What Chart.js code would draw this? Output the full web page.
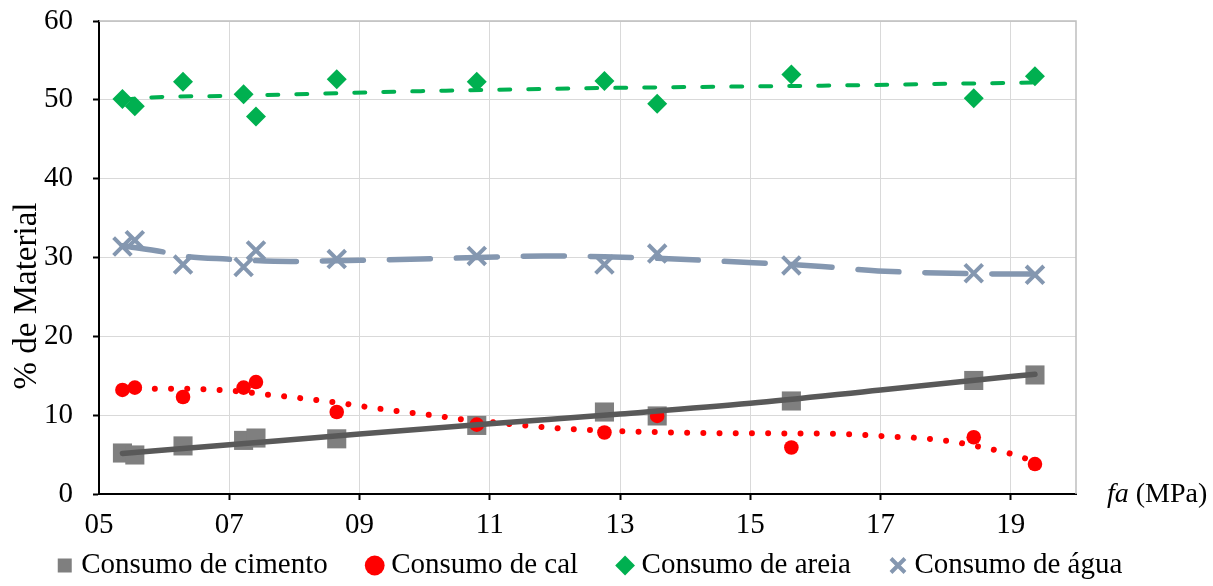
<!DOCTYPE html>
<html>
<head>
<meta charset="utf-8">
<script src="https://cdn.jsdelivr.net/npm/chart.js@4.4.1/dist/chart.umd.min.js"></script>
<style>
  html, body { margin: 0; padding: 0; background: #fff; }
</style>
</head>
<body>
<canvas id="chart" width="1213" height="586"></canvas>
<script>
// fa (MPa) of each mix, shared by the four series
const fa = [5.36, 5.55, 6.29, 7.22, 7.41, 8.65, 10.80, 12.76, 13.57, 15.63, 18.43, 19.37];

// % of material
const cimento = [5.2, 4.95, 6.1, 6.8, 7.1, 7.0, 8.7, 10.4, 9.9, 11.8, 14.4, 15.1];
const cal     = [13.2, 13.5, 12.3, 13.5, 14.2, 10.4, 8.8, 7.8, 9.9, 5.9, 7.2, 3.8];
const areia   = [50.1, 49.2, 52.3, 50.7, 47.9, 52.6, 52.3, 52.4, 49.5, 53.2, 50.2, 53.0];
const agua    = [31.4, 32.2, 29.1, 28.8, 30.9, 29.8, 30.2, 29.1, 30.5, 29.0, 28.0, 27.8];

// trend lines
const cimentoTrendX = [5.36, 7, 9, 11, 13, 15, 17, 19, 19.37];
const cimentoTrendY = [5.15, 6.25, 7.6, 8.9, 10.15, 11.5, 13.2, 14.9, 15.2];

const calTrendX = [5.36, 6.0, 6.6, 7.1, 7.6, 8.1, 8.6, 9.1, 9.6, 10.1, 10.6, 11.1, 11.6, 12.1, 12.6, 13.1, 13.6, 14.1, 15.1, 16.1, 16.6, 17.1, 17.6, 18.1, 18.6, 19.0, 19.37];
const calTrendY = [13.2, 13.35, 13.3, 13.05, 12.6, 12.15, 11.65, 11.05, 10.5, 10.0, 9.45, 9.05, 8.65, 8.3, 8.1, 7.95, 7.85, 7.75, 7.7, 7.65, 7.55, 7.3, 7.1, 6.65, 5.85, 5.1, 4.1];

const areiaTrendX = [5.36, 5.78, 7, 9.94, 12.76, 16.1, 19.37];
const areiaTrendY = [50.0, 50.3, 50.5, 51.1, 51.5, 51.8, 52.2];

const aguaTrendX = [5.36, 5.99, 6.28, 6.96, 7.94, 8.65, 9.94, 10.8, 11.83, 12.76, 13.57, 14.9, 15.63, 16.1, 16.96, 18.43, 19.37];
const aguaTrendY = [31.5, 30.7, 30.2, 29.8, 29.5, 29.6, 29.8, 30.0, 30.2, 30.1, 29.9, 29.4, 29.1, 28.85, 28.3, 27.95, 27.9];

const xTicks = [5, 7, 9, 11, 13, 15, 17, 19];
const yTicks = [0, 10, 20, 30, 40, 50, 60];

const FONT = '"Liberation Serif", "Times New Roman", serif';
const toPts = (xs, ys) => xs.map((x, i) => ({ x: x, y: ys[i] }));

// axis titles and the light frame on top / right
const extraText = {
    id: 'extraText',
    beforeDatasetsDraw(chart) {
        const { ctx, chartArea: a } = chart;
        ctx.save();
        ctx.strokeStyle = '#bfbfbf';
        ctx.lineWidth = 1.5;
        ctx.beginPath();
        ctx.moveTo(a.left, a.top);
        ctx.lineTo(a.right, a.top);
        ctx.lineTo(a.right, a.bottom);
        ctx.stroke();
        ctx.restore();
    },
    afterDraw(chart) {
        const { ctx, chartArea: a } = chart;
        ctx.save();
        ctx.fillStyle = '#000';
        ctx.textBaseline = 'alphabetic';
        // x title
        ctx.textAlign = 'left';
        ctx.font = 'italic 28px ' + FONT;
        let x = a.right + 31;
        const y = a.bottom + 8;
        ctx.fillText('fa', x, y);
        x += ctx.measureText('fa').width;
        ctx.font = '28px ' + FONT;
        ctx.fillText(' (MPa)', x, y);
        // y title
        ctx.font = '33px ' + FONT;
        ctx.translate(27, 296);
        ctx.rotate(-Math.PI / 2);
        ctx.textAlign = 'center';
        ctx.textBaseline = 'middle';
        ctx.fillText('% de Material', 0, 0);
        ctx.restore();
    }
};

const ctx = document.getElementById('chart').getContext('2d');
const chart = new Chart(ctx, {
    type: 'scatter',
    data: {
        datasets: [
            { label: 'Consumo de cimento', data: toPts(fa, cimento), order: 4,
              pointStyle: 'rect', pointRadius: 13.5, backgroundColor: '#7f7f7f', borderColor: '#7f7f7f', borderWidth: 0 },
            { label: 'Consumo de cal', data: toPts(fa, cal), order: 3,
              pointStyle: 'circle', pointRadius: 7.3, backgroundColor: '#ff0000', borderColor: '#ff0000', borderWidth: 0 },
            { label: 'Consumo de areia', data: toPts(fa, areia), order: 2,
              pointStyle: 'rectRot', pointRadius: 10, backgroundColor: '#00b050', borderColor: '#00b050', borderWidth: 0 },
            { label: 'Consumo de água', data: toPts(fa, agua), order: 1,
              pointStyle: 'crossRot', pointRadius: 12.5, backgroundColor: '#8497b0', borderColor: '#8497b0',
              borderWidth: 4, pointBorderWidth: 4 },

            { label: 'trend cimento', data: toPts(cimentoTrendX, cimentoTrendY), order: 0,
              showLine: true, pointRadius: 0, borderColor: '#595959', borderWidth: 5.5,
              borderCapStyle: 'round', cubicInterpolationMode: 'monotone' },
            { label: 'trend cal', data: toPts(calTrendX, calTrendY), order: 0,
              showLine: true, pointRadius: 0, borderColor: '#ff0000', borderWidth: 6,
              borderDash: [0.001, 16.2], borderCapStyle: 'round', cubicInterpolationMode: 'monotone' },
            { label: 'trend areia', data: toPts(areiaTrendX, areiaTrendY), order: 0,
              showLine: true, pointRadius: 0, borderColor: '#00b050', borderWidth: 4,
              borderDash: [11, 18], borderCapStyle: 'round', cubicInterpolationMode: 'monotone' },
            { label: 'trend agua', data: toPts(aguaTrendX, aguaTrendY), order: 0,
              showLine: true, pointRadius: 0, borderColor: '#8497b0', borderWidth: 5.5,
              borderDash: [41, 26], borderCapStyle: 'round', cubicInterpolationMode: 'monotone' }
        ]
    },
    options: {
        responsive: false,
        devicePixelRatio: 1,
        animation: false,
        layout: { padding: { top: 21, right: 28, bottom: -4, left: 0 } },
        plugins: {
            tooltip: { enabled: false },
            legend: {
                position: 'bottom',
                labels: {
                    filter: item => item.datasetIndex < 4,
                    sort: (a, b) => a.datasetIndex - b.datasetIndex,
                    usePointStyle: true,
                    boxWidth: 4,
                    boxHeight: 14,
                    padding: 45,
                    color: '#000',
                    font: { family: FONT, size: 29 }
                }
            }
        },
        scales: {
            x: {
                type: 'linear', min: 5, max: 20,
                afterBuildTicks: s => { s.ticks = xTicks.map(v => ({ value: v })); },
                afterFit: s => { s.height = 12; },
                // mirror keeps the labels from being clipped to the thin axis box;
                // the negative padding pushes them back below the axis
                ticks: {
                    callback: v => String(v).padStart(2, '0'),
                    color: '#000', font: { family: FONT, size: 29 },
                    mirror: true, padding: -49, maxRotation: 0, autoSkip: false
                },
                grid: {
                    color: '#d9d9d9', lineWidth: 1, tickLength: 6, tickWidth: 2,
                    tickColor: c => (c.tick && c.tick.value === 5) ? 'rgba(0,0,0,0)' : '#000'
                },
                border: { color: '#000', width: 2 }
            },
            y: {
                min: 0, max: 60,
                afterBuildTicks: s => { s.ticks = yTicks.map(v => ({ value: v })); },
                // fixed width; drop the label overflow so the plot top stays put
                afterFit: s => { s.width = 99; s.paddingTop = 0; s.paddingBottom = 0; },
                ticks: { color: '#000', font: { family: FONT, size: 29 }, padding: 20 },
                grid: { color: '#d9d9d9', lineWidth: 1, tickColor: '#000', tickLength: 6, tickWidth: 2 },
                border: { color: '#000', width: 2 }
            },
            yR: {
                axis: 'y', position: 'right', min: 0, max: 60,
                afterFit: s => { s.width = 109; },
                ticks: { display: false },
                grid: { display: false },
                border: { display: false }
            }
        }
    },
    plugins: [extraText]
});
</script>
</body>
</html>
